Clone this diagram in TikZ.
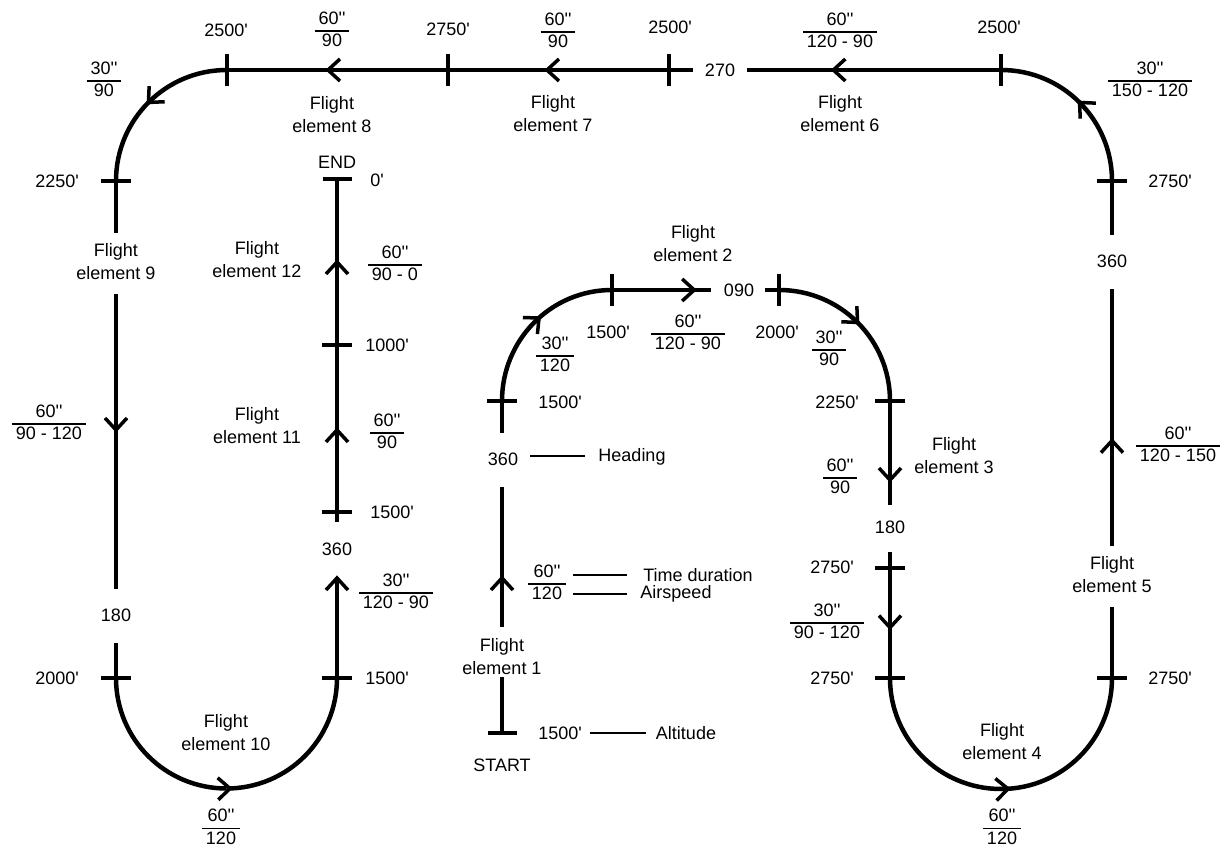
\documentclass[tikz,border=0pt]{standalone}
\usepackage{fontspec}
\setmainfont{Liberation Sans}[Ligatures=TeXOff]
\usetikzlibrary{decorations.markings}
\newcommand\frl[2]{{\renewcommand\arraystretch{0.5}\setlength\arrayrulewidth{1.6pt}\begin{tabular}{@{\hspace{4pt}}c@{\hspace{4pt}}}\rule[-6pt]{0pt}{21pt}#1\\\hline\rule[-6pt]{0pt}{21pt}#2\end{tabular}}}
\newcommand\frlb[2]{{\renewcommand\arraystretch{0.5}\setlength\arrayrulewidth{1.6pt}\begin{tabular}{@{\hspace{4pt}}c@{\hspace{4pt}}}\rule[-6pt]{0pt}{21pt}#1\\\hline\rule[0pt]{0pt}{15pt}#2\end{tabular}}}
\begin{document}
\begin{tikzpicture}[x=1pt,y=1pt,
  every node/.style={font=\fontsize{18}{23}\selectfont, inner sep=0pt},
  fl/.style={line width=4.5pt},
  tk/.style={line width=4pt},
  guide/.style={line width=1.3pt},
  chevline/.style={line width=3.5pt, line join=miter},
  arr/.style={postaction={decorate,decoration={markings,mark=at position #1 with {\draw[chevline] (-12pt,11pt) -- (0pt,0pt) -- (-12pt,-11pt);}}}},
  ml/.style={align=center}]
\useasboundingbox (0,0) rectangle (1223,849);
% ---------- coordinates of the flight path ----------
\coordinate (s) at (502,116);
\coordinate (e1a) at (502,172);
\coordinate (e1b) at (502,222);
\coordinate (e1c) at (502,362);
\coordinate (e1d) at (502,416);
\coordinate (t1) at (502,448);
\coordinate (t2) at (612,559);
\coordinate (e2a) at (711,559);
\coordinate (e2b) at (765,559);
\coordinate (t3) at (779,559);
\coordinate (t4) at (890,448);
\coordinate (e3a) at (890,344);
\coordinate (e3b) at (890,297);
\coordinate (t5) at (890,281);
\coordinate (t6) at (890,171);
\coordinate (b1) at (1001,60);
\coordinate (t7) at (1112,171);
\coordinate (e5a) at (1112,242);
\coordinate (e5b) at (1112,303);
\coordinate (e5c) at (1112,560);
\coordinate (e5d) at (1112,614);
\coordinate (t8) at (1112,668);
\coordinate (t9) at (1001,779);
\coordinate (e6a) at (747,779);
\coordinate (e6b) at (693,779);
\coordinate (t10) at (669,779);
\coordinate (t11) at (448,779);
\coordinate (t12) at (227,779);
\coordinate (t13) at (116,668);
\coordinate (e9a) at (116,616);
\coordinate (e9b) at (116,555);
\coordinate (e9c) at (116,260);
\coordinate (e9d) at (116,206);
\coordinate (t14) at (116,171);
\coordinate (b2) at (226.5,60.5);
\coordinate (t15) at (337,171);
\coordinate (e10a) at (337,272);
\coordinate (e11a) at (337,327);
\coordinate (t16) at (337,337);
\coordinate (t17) at (337,504);
\coordinate (en) at (337,670);
% ---------- path ----------
\draw[fl] (s) -- (e1a);
\draw[fl,arr=0.35] (e1b) -- (e1c);
\draw[fl] (e1d) -- (t1);
\draw[fl,arr=0.54] (t1) to[out=90,in=180] (t2);
\draw[fl,arr=0.83] (t2) -- (e2a);
\draw[fl] (e2b) -- (t3);
\draw[fl,arr=0.5] (t3) to[out=0,in=90] (t4);
\draw[fl,arr=0.76] (t4) -- (e3a);
\draw[fl,arr=0.6] (e3b) -- (t6);
\draw[fl] (t6) to[out=-90,in=180] (b1);
\draw[fl,arr=0.04] (b1) to[out=0,in=-90] (t7);
\draw[fl] (t7) -- (e5a);
\draw[fl,arr=0.41] (e5b) -- (e5c);
\draw[fl] (e5d) -- (t8);
\draw[fl,arr=0.5] (t8) to[out=90,in=0] (t9);
\draw[fl,arr=0.66] (t9) -- (e6a);
\draw[fl,arr=0.596] (e6b) -- (t11);
\draw[fl,arr=0.543] (t11) -- (t12);
\draw[fl,arr=0.5] (t12) to[out=180,in=90] (t13);
\draw[fl] (t13) -- (e9a);
\draw[fl,arr=0.461] (e9b) -- (e9c);
\draw[fl] (e9d) -- (t14);
\draw[fl] (t14) to[out=-90,in=180] (b2);
\draw[fl,arr=0.02] (b2) to[out=0,in=-90] (t15);
\draw[fl,arr=0.99] (t15) -- (e10a);
\draw[fl,arr=0.52] (e11a) -- (t17);
\draw[fl,arr=0.5] (t17) -- (en);
% ---------- ticks ----------
\foreach \t in {t1,t4,t5,t6,t7,t8,t13,t14,t15,t16,t17}
  \draw[tk] ([xshift=-15pt]\t) -- ([xshift=15pt]\t);
\foreach \t in {t2,t3,t9,t10,t11,t12}
  \draw[tk] ([yshift=-16pt]\t) -- ([yshift=16pt]\t);
\draw[fl] ([xshift=-14.5pt]en) -- ([xshift=14.5pt]en);
\draw[fl] ([xshift=-14.5pt]s) -- ([xshift=14.5pt]s);
% ---------- legend guides ----------
\coordinate (ga1) at (590,116); \coordinate (ga2) at (646,116);
\coordinate (gh1) at (530,393); \coordinate (gh2) at (585,393);
\coordinate (gt1) at (573,274); \coordinate (gt2) at (627,274);
\coordinate (gs1) at (573,255); \coordinate (gs2) at (627,255);
\draw[guide] (ga1) -- (ga2);
\draw[guide] (gh1) -- (gh2);
\draw[guide] (gt1) -- (gt2);
\draw[guide] (gs1) -- (gs2);
% ---------- labels ----------
\node (a1) at (560,116) {1500'};
\node (alt) at (686,116) {Altitude};
\node (start) at (502,84) {START};
\node[ml] (fe1) at (502,192) {Flight\\element 1};
\node (f1) at (547,265) {\frl{60''}{120}};
\node (td) at (698,274) {Time duration};
\node (as) at (676,255) {Airspeed};
\node (h1) at (503,390) {360};
\node (hd) at (632,392) {Heading};
\node (a2) at (560,447) {1500'};
\node (f2) at (555,493) {\frl{30''}{120}};
\node (a3) at (608,517) {1500'};
\node (f3) at (688,515) {\frl{60''}{120 - 90}};
\node[ml] (fe2) at (693,605.5) {Flight\\element 2};
\node (h2) at (739,559) {090};
\node (a4) at (777,517) {2000'};
\node (f4) at (829,499) {\frl{30''}{90}};
\node (a5) at (837,447) {2250'};
\node (f5) at (840,371) {\frl{60''}{90}};
\node[ml] (fe3) at (954,393) {Flight\\element 3};
\node (h3) at (890,322) {180};
\node (a6) at (832,282) {2750'};
\node (f6) at (827,226) {\frl{30''}{90 - 120}};
\node (a7) at (832,171) {2750'};
\node[ml] (fe4) at (1002,107.5) {Flight\\element 4};
\node[anchor=south] (f7) at (1002,1) {\frlb{60''}{120}};
\node (a8) at (1170,171) {2750'};
\node[ml] (fe5) at (1112,274) {Flight\\element 5};
\node (f8) at (1178,403) {\frl{60''}{120 - 150}};
\node (h4) at (1112,588) {360};
\node (a9) at (1170,668) {2750'};
\node (f9) at (1150,768) {\frl{30''}{150 - 120}};
\node (a10) at (999,822) {2500'};
\node (f10) at (840,817) {\frl{60''}{120 - 90}};
\node[ml] (fe6) at (840,735) {Flight\\element 6};
\node (h5) at (720,779) {270};
\node (a11) at (670,822) {2500'};
\node (f11) at (558,817) {\frl{60''}{90}};
\node[ml] (fe7) at (553,735) {Flight\\element 7};
\node (a12) at (448,820) {2750'};
\node (f12) at (332,818) {\frl{60''}{90}};
\node[ml] (fe8) at (332,734.5) {Flight\\element 8};
\node (a13) at (226,819) {2500'};
\node (f13) at (104,768) {\frl{30''}{90}};
\node (a14) at (57,668) {2250'};
\node[ml] (fe9) at (116,587) {Flight\\element 9};
\node (f14) at (49,425) {\frl{60''}{90 - 120}};
\node (h6) at (116,234) {180};
\node (a15) at (57,171) {2000'};
\node[ml] (fe10) at (226,116) {Flight\\element 10};
\node[anchor=south] (f15) at (221,1) {\frlb{60''}{120}};
\node (a16) at (387,171) {1500'};
\node (f16) at (396,256) {\frl{30''}{120 - 90}};
\node (h7) at (337,300) {360};
\node (a17) at (392,337) {1500'};
\node (f17) at (387,416) {\frl{60''}{90}};
\node[ml] (fe11) at (257,423.5) {Flight\\element 11};
\node (a18) at (387,504) {1000'};
\node (f18) at (395,584) {\frl{60''}{90 - 0}};
\node[ml] (fe12) at (257,589.5) {Flight\\element 12};
\node (a19) at (377,669) {0'};
\node (endl) at (337,687) {END};
\end{tikzpicture}
\end{document}
